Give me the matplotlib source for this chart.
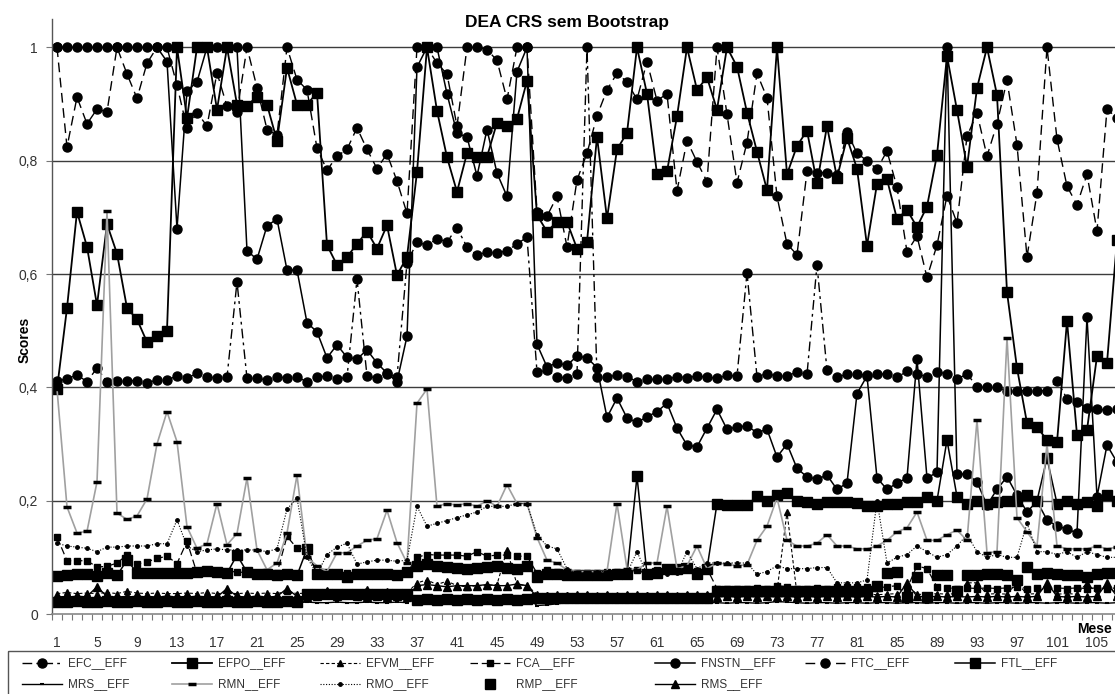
import matplotlib
matplotlib.use("Agg")
import matplotlib.pyplot as plt
from matplotlib.patches import Rectangle

plt.rcParams['font.family'] = ['Liberation Sans', 'DejaVu Sans']

# ---------------- data ----------------
months = list(range(1, 108))
tick_months = list(range(1, 106, 4))
y_ticks = [0, 0.2, 0.4, 0.6, 0.8, 1.0]
y_tick_labels = ["0", "0,2", "0,4", "0,6", "0,8", "1"]

EFC = [0.411, 0.415, 0.422, 0.41, 0.434, 0.41, 0.412, 0.412, 0.412, 0.408,
       0.413, 0.413, 0.42, 0.416, 0.425, 0.418, 0.417, 0.418, 0.586, 0.416,
       0.416, 0.413, 0.418, 0.417, 0.418, 0.41, 0.418, 0.42, 0.414, 0.418,
       0.591, 0.42, 0.416, 0.423, 0.418, 0.62, 0.656, 0.651, 0.662, 0.657,
       0.681, 0.648, 0.633, 0.639, 0.637, 0.641, 0.653, 0.665, 0.427, 0.43,
       0.419, 0.416, 0.424, 1.0, 0.419, 0.419, 0.421, 0.419, 0.41, 0.414,
       0.414, 0.414, 0.419, 0.417, 0.42, 0.418, 0.416, 0.421, 0.42, 0.602,
       0.419, 0.424, 0.42, 0.42, 0.427, 0.423, 0.616, 0.43, 0.418, 0.423,
       0.423, 0.422, 0.423, 0.424, 0.418, 0.428, 0.423, 0.419, 0.427, 0.424,
       0.414, 0.424, 0.401, 0.4, 0.4, 0.394, 0.394, 0.394, 0.394, 0.394,
       0.412, 0.38, 0.374, 0.364, 0.361, 0.36, 0.361]

EFPO = [0.397, 0.54, 0.71, 0.648, 0.545, 0.688, 0.636, 0.54, 0.52, 0.48,
        0.49, 0.5, 1.0, 0.875, 1.0, 1.0, 0.89, 1.0, 0.899, 0.897,
        0.913, 0.899, 0.835, 0.964, 0.899, 0.899, 0.92, 0.651, 0.616, 0.63,
        0.653, 0.675, 0.645, 0.686, 0.598, 0.63, 0.78, 1.0, 0.888, 0.806,
        0.745, 0.813, 0.807, 0.807, 0.867, 0.861, 0.874, 0.941, 0.704, 0.675,
        0.692, 0.692, 0.645, 0.657, 0.842, 0.698, 0.82, 0.849, 1.0, 0.918,
        0.776, 0.781, 0.878, 1.0, 0.925, 0.947, 0.89, 1.0, 0.966, 0.885,
        0.816, 0.748, 1.0, 0.776, 0.826, 0.853, 0.76, 0.861, 0.77, 0.84,
        0.786, 0.65, 0.759, 0.767, 0.697, 0.713, 0.683, 0.719, 0.81, 0.985,
        0.889, 0.789, 0.928, 1.0, 0.916, 0.568, 0.434, 0.337, 0.33, 0.307,
        0.303, 0.517, 0.316, 0.325, 0.455, 0.443, 0.66]

EFVM = [0.036, 0.038, 0.036, 0.037, 0.036, 0.038, 0.036, 0.04, 0.037, 0.036,
        0.037, 0.036, 0.036, 0.037, 0.036, 0.038, 0.036, 0.037, 0.036, 0.037,
        0.036, 0.037, 0.036, 0.04, 0.036, 0.037, 0.036, 0.04, 0.037, 0.038,
        0.036, 0.045, 0.036, 0.04, 0.036, 0.037, 0.055, 0.06, 0.052, 0.058,
        0.05, 0.048, 0.05, 0.05, 0.052, 0.113, 0.052, 0.05, 0.035, 0.034,
        0.035, 0.034, 0.036, 0.035, 0.034, 0.035, 0.034, 0.036, 0.035, 0.034,
        0.035, 0.036, 0.034, 0.035, 0.036, 0.035, 0.038, 0.036, 0.035, 0.036,
        0.038, 0.04, 0.04, 0.18, 0.035, 0.036, 0.035, 0.036, 0.034, 0.035,
        0.036, 0.035, 0.034, 0.035, 0.036, 0.05, 0.035, 0.034, 0.036, 0.035,
        0.036, 0.055, 0.055, 0.035, 0.036, 0.035, 0.055, 0.035, 0.036, 0.05,
        0.035, 0.036, 0.035, 0.055, 0.036, 0.05, 0.035]

FCA = [0.136, 0.094, 0.094, 0.094, 0.083, 0.084, 0.09, 0.104, 0.088, 0.092,
       0.098, 0.102, 0.089, 0.128, 0.072, 0.074, 0.075, 0.074, 0.075, 0.072,
       0.07, 0.07, 0.072, 0.137, 0.116, 0.114, 0.07, 0.07, 0.07, 0.072,
       0.07, 0.07, 0.07, 0.07, 0.07, 0.072, 0.1, 0.105, 0.104, 0.104,
       0.104, 0.102, 0.11, 0.102, 0.104, 0.104, 0.102, 0.102, 0.072, 0.078,
       0.075, 0.072, 0.072, 0.072, 0.072, 0.074, 0.075, 0.075, 0.078, 0.07,
       0.078, 0.082, 0.08, 0.082, 0.076, 0.08, 0.045, 0.045, 0.044, 0.045,
       0.046, 0.045, 0.05, 0.048, 0.045, 0.044, 0.046, 0.045, 0.047, 0.048,
       0.048, 0.047, 0.046, 0.048, 0.05, 0.045, 0.085, 0.08, 0.048, 0.046,
       0.045, 0.046, 0.045, 0.046, 0.045, 0.046, 0.048, 0.045, 0.046, 0.045,
       0.046, 0.045, 0.046, 0.045, 0.046, 0.045, 0.046]

FNSTN = [1, 1, 1, 1, 1, 1, 1, 1, 1, 1,
         1, 0.975, 0.68, 0.923, 0.939, 1.0, 1.0, 1.0, 1.0, 0.641,
         0.626, 0.685, 0.697, 0.607, 0.607, 0.514, 0.498, 0.452, 0.475, 0.453,
         0.45, 0.466, 0.443, 0.425, 0.41, 0.49, 0.965, 1.0, 1.0, 0.918,
         0.848, 0.842, 0.773, 0.855, 0.778, 0.737, 0.957, 1.0, 0.476, 0.436,
         0.443, 0.439, 0.455, 0.452, 0.435, 0.347, 0.381, 0.346, 0.338, 0.348,
         0.357, 0.372, 0.328, 0.298, 0.295, 0.328, 0.361, 0.326, 0.33, 0.332,
         0.32, 0.326, 0.277, 0.30, 0.257, 0.242, 0.238, 0.245, 0.22, 0.231,
         0.389, 0.42, 0.24, 0.22, 0.231, 0.24, 0.45, 0.24, 0.25, 1.0,
         0.247, 0.247, 0.233, 0.192, 0.22, 0.242, 0.21, 0.18, 0.199, 0.166,
         0.155, 0.15, 0.143, 0.524, 0.207, 0.298, 0.268]

FTC = [1.0, 0.824, 0.912, 0.865, 0.891, 0.886, 1.0, 0.953, 0.91, 0.972,
       1.0, 1.0, 0.933, 0.857, 0.885, 0.861, 0.955, 0.896, 0.886, 1.0,
       0.929, 0.855, 0.845, 1.0, 0.943, 0.925, 0.822, 0.783, 0.808, 0.82,
       0.858, 0.82, 0.786, 0.812, 0.764, 0.707, 1.0, 1.0, 0.972, 0.953,
       0.861, 1.0, 1.0, 0.996, 0.977, 0.908, 1.0, 1.0, 0.71, 0.702,
       0.737, 0.648, 0.766, 0.813, 0.879, 0.925, 0.954, 0.939, 0.908, 0.975,
       0.906, 0.918, 0.747, 0.835, 0.798, 0.763, 1.0, 0.882, 0.761, 0.832,
       0.954, 0.911, 0.737, 0.653, 0.634, 0.781, 0.779, 0.779, 0.775, 0.851,
       0.813, 0.8, 0.785, 0.817, 0.753, 0.639, 0.667, 0.594, 0.651, 0.738,
       0.69, 0.843, 0.884, 0.808, 0.865, 0.942, 0.828, 0.63, 0.743, 1.0,
       0.838, 0.755, 0.722, 0.776, 0.676, 0.891, 0.875]

FTL = [0.067, 0.068, 0.07, 0.07, 0.067, 0.072, 0.068, 0.095, 0.073, 0.072,
       0.072, 0.072, 0.072, 0.072, 0.075, 0.076, 0.075, 0.072, 0.104, 0.074,
       0.07, 0.071, 0.068, 0.07, 0.068, 0.115, 0.07, 0.07, 0.07, 0.066,
       0.07, 0.07, 0.07, 0.07, 0.068, 0.075, 0.085, 0.088, 0.085, 0.083,
       0.082, 0.08, 0.081, 0.083, 0.085, 0.082, 0.08, 0.085, 0.065, 0.07,
       0.07, 0.068, 0.068, 0.068, 0.068, 0.069, 0.07, 0.07, 0.243, 0.07,
       0.072, 0.08, 0.08, 0.082, 0.07, 0.08, 0.195, 0.192, 0.192, 0.192,
       0.208, 0.2, 0.21, 0.213, 0.2, 0.198, 0.195, 0.198, 0.197, 0.197,
       0.196, 0.19, 0.19, 0.195, 0.194, 0.198, 0.198, 0.207, 0.2, 0.307,
       0.207, 0.195, 0.2, 0.195, 0.197, 0.2, 0.2, 0.21, 0.2, 0.275,
       0.195, 0.2, 0.195, 0.197, 0.19, 0.21, 0.2]

MRS = [0.02, 0.021, 0.02, 0.02, 0.021, 0.02, 0.02, 0.021, 0.02, 0.02,
       0.021, 0.02, 0.02, 0.021, 0.02, 0.02, 0.021, 0.02, 0.02, 0.021,
       0.02, 0.02, 0.021, 0.02, 0.02, 0.021, 0.02, 0.02, 0.021, 0.02,
       0.02, 0.021, 0.02, 0.02, 0.021, 0.02, 0.03, 0.031, 0.03, 0.03,
       0.031, 0.03, 0.03, 0.031, 0.03, 0.03, 0.031, 0.03, 0.015, 0.016,
       0.018, 0.02, 0.019, 0.02, 0.02, 0.019, 0.02, 0.02, 0.019, 0.02,
       0.02, 0.019, 0.02, 0.02, 0.019, 0.02, 0.02, 0.019, 0.02, 0.02,
       0.019, 0.02, 0.022, 0.021, 0.02, 0.019, 0.02, 0.02, 0.019, 0.02,
       0.02, 0.019, 0.02, 0.02, 0.019, 0.02, 0.02, 0.019, 0.02, 0.02,
       0.019, 0.02, 0.02, 0.019, 0.02, 0.02, 0.019, 0.02, 0.02, 0.019,
       0.02, 0.02, 0.019, 0.02, 0.02, 0.019, 0.02]

RMN = [0.397, 0.189, 0.143, 0.146, 0.233, 0.711, 0.178, 0.167, 0.173, 0.203,
       0.3, 0.357, 0.304, 0.154, 0.116, 0.124, 0.195, 0.122, 0.142, 0.24,
       0.113, 0.078, 0.09, 0.143, 0.245, 0.1, 0.085, 0.075, 0.108, 0.108,
       0.12, 0.13, 0.133, 0.183, 0.126, 0.09, 0.372, 0.397, 0.19, 0.195,
       0.192, 0.195, 0.19, 0.2, 0.19, 0.228, 0.195, 0.195, 0.135, 0.095,
       0.09, 0.078, 0.075, 0.075, 0.075, 0.075, 0.195, 0.08, 0.078, 0.09,
       0.09, 0.19, 0.08, 0.085, 0.12, 0.08, 0.09, 0.088, 0.085, 0.087,
       0.13, 0.155, 0.205, 0.13, 0.12, 0.12, 0.125, 0.14, 0.12, 0.12,
       0.115, 0.115, 0.12, 0.13, 0.145, 0.152, 0.18, 0.13, 0.13, 0.14,
       0.148, 0.13, 0.342, 0.108, 0.11, 0.487, 0.17, 0.145, 0.12, 0.3,
       0.12, 0.115, 0.115, 0.115, 0.12, 0.115, 0.118]

RMO = [0.125, 0.12, 0.118, 0.116, 0.11, 0.118, 0.118, 0.12, 0.12, 0.12,
       0.124, 0.124, 0.166, 0.12, 0.11, 0.113, 0.115, 0.113, 0.113, 0.113,
       0.113, 0.11, 0.115, 0.185, 0.205, 0.1, 0.07, 0.105, 0.118, 0.125,
       0.088, 0.092, 0.095, 0.095, 0.093, 0.095, 0.19, 0.155, 0.16, 0.165,
       0.17, 0.175, 0.18, 0.19, 0.19, 0.19, 0.195, 0.195, 0.14, 0.12,
       0.115, 0.08, 0.072, 0.073, 0.075, 0.075, 0.075, 0.072, 0.11, 0.07,
       0.072, 0.07, 0.072, 0.11, 0.08, 0.09, 0.09, 0.09, 0.09, 0.09,
       0.07, 0.075, 0.085, 0.08, 0.08, 0.08, 0.082, 0.082, 0.055, 0.055,
       0.055, 0.06, 0.2, 0.09, 0.1, 0.105, 0.12, 0.11, 0.1, 0.105,
       0.12, 0.14, 0.11, 0.1, 0.105, 0.1, 0.1, 0.16, 0.11, 0.11,
       0.105, 0.11, 0.1, 0.11, 0.105, 0.1, 0.1]

RMP = [0.022, 0.022, 0.023, 0.022, 0.022, 0.023, 0.022, 0.022, 0.023, 0.022,
       0.022, 0.023, 0.022, 0.022, 0.023, 0.022, 0.022, 0.023, 0.022, 0.022,
       0.023, 0.022, 0.022, 0.023, 0.022, 0.035, 0.036, 0.035, 0.036, 0.035,
       0.036, 0.035, 0.036, 0.035, 0.036, 0.035, 0.025, 0.026, 0.025, 0.026,
       0.025, 0.026, 0.025, 0.026, 0.025, 0.026, 0.025, 0.026, 0.028, 0.029,
       0.028, 0.029, 0.028, 0.029, 0.028, 0.029, 0.028, 0.029, 0.028, 0.029,
       0.028, 0.029, 0.028, 0.029, 0.028, 0.029, 0.04, 0.041, 0.04, 0.041,
       0.04, 0.041, 0.04, 0.041, 0.04, 0.041, 0.04, 0.041, 0.04, 0.041,
       0.04, 0.041, 0.05, 0.072, 0.075, 0.03, 0.065, 0.03, 0.069, 0.069,
       0.04, 0.069, 0.069, 0.07, 0.07, 0.068, 0.06, 0.083, 0.07, 0.072,
       0.07, 0.069, 0.069, 0.066, 0.07, 0.072, 0.073]

RMS = [0.03, 0.031, 0.03, 0.031, 0.048, 0.031, 0.03, 0.031, 0.03, 0.031,
       0.03, 0.031, 0.03, 0.031, 0.03, 0.031, 0.03, 0.045, 0.031, 0.03,
       0.031, 0.03, 0.031, 0.045, 0.031, 0.03, 0.031, 0.04, 0.031, 0.035,
       0.031, 0.03, 0.031, 0.03, 0.031, 0.03, 0.05, 0.052, 0.05, 0.048,
       0.05, 0.05, 0.05, 0.052, 0.05, 0.05, 0.053, 0.05, 0.03, 0.031,
       0.03, 0.031, 0.03, 0.031, 0.03, 0.031, 0.03, 0.031, 0.03, 0.031,
       0.03, 0.031, 0.03, 0.031, 0.03, 0.031, 0.03, 0.031, 0.03, 0.031,
       0.03, 0.031, 0.03, 0.031, 0.03, 0.031, 0.03, 0.031, 0.03, 0.031,
       0.03, 0.031, 0.03, 0.031, 0.03, 0.055, 0.031, 0.03, 0.031, 0.03,
       0.031, 0.03, 0.031, 0.03, 0.031, 0.03, 0.031, 0.03, 0.031, 0.055,
       0.031, 0.03, 0.031, 0.03, 0.031, 0.055, 0.031]

series_names = ["EFC__EFF", "EFPO__EFF", "EFVM__EFF", "FCA__EFF", "FNSTN__EFF",
                "FTC__EFF", "FTL__EFF", "MRS__EFF", "RMN__EFF", "RMO__EFF",
                "RMP__EFF", "RMS__EFF"]
series_values = [EFC, EFPO, EFVM, FCA, FNSTN, FTC, FTL, MRS, RMN, RMO, RMP, RMS]

# ---------------- styles ----------------
K = "black"
styles = {
    "EFC__EFF":   dict(ls=(0, (7, 3, 2, 3)), lw=1.0, color=K, marker="o", ms=6.5, mfc=K, mec=K),
    "EFPO__EFF":  dict(ls="-", lw=1.3, color=K, marker="s", ms=7, mfc=K, mec=K),
    "EFVM__EFF":  dict(ls=(0, (3, 2)), lw=0.8, color=K, marker="^", ms=4.5, mfc=K, mec=K),
    "FCA__EFF":   dict(ls=(0, (6, 3)), lw=0.9, color=K, marker="s", ms=5, mfc=K, mec=K),
    "FNSTN__EFF": dict(ls="-", lw=1.1, color=K, marker="o", ms=6.5, mfc=K, mec=K),
    "FTC__EFF":   dict(ls=(0, (7, 4)), lw=1.0, color=K, marker="o", ms=6.5, mfc=K, mec=K),
    "FTL__EFF":   dict(ls="-", lw=1.1, color=K, marker="s", ms=6.5, mfc=K, mec=K),
    "MRS__EFF":   dict(ls="-", lw=1.0, color=K, marker="_", ms=3, mfc=K, mec=K, mew=1.5),
    "RMN__EFF":   dict(ls="-", lw=1.2, color="#a0a0a0", marker="_", ms=6, mfc=K, mec=K, mew=2.5),
    "RMO__EFF":   dict(ls=(0, (1, 1.5)), lw=0.8, color=K, marker="o", ms=2.5, mfc=K, mec=K),
    "RMP__EFF":   dict(ls="none", lw=0, color=K, marker="s", ms=6.5, mfc=K, mec=K),
    "RMS__EFF":   dict(ls="-", lw=1.0, color=K, marker="^", ms=6, mfc=K, mec=K),
}

# ---------------- figure ----------------
W, H = 1115, 694
fig = plt.figure(figsize=(W / 100, H / 100), dpi=100)
fig.patch.set_facecolor("white")

ax_left, ax_right, ax_top, ax_bot = 52, 1115, 19, 614
ax = fig.add_axes([ax_left / W, (H - ax_bot) / H, (ax_right - ax_left) / W, (ax_bot - ax_top) / H])

for name, vals in zip(series_names, series_values):
    ax.plot(months, vals, clip_on=True, **styles[name])

ax.set_xlim(0.5, 106.8)
ax.set_ylim(0, 1.05)

for v in y_ticks[1:]:
    ax.axhline(v, color="#3c3c3c", lw=1.0, zorder=0)

ax.set_yticks(y_ticks)
ax.set_yticklabels(y_tick_labels)
ax.set_xticks(tick_months)
ax.set_xticklabels([str(m) for m in tick_months])
ax.set_xticks([m + 0.5 for m in range(0, 107)], minor=True)

ax.tick_params(axis="x", which="major", length=0, pad=16, labelsize=10, labelcolor="#333333")
ax.tick_params(axis="x", which="minor", length=4, width=0.8, color="#777777", direction="out")
ax.tick_params(axis="y", which="major", length=4, width=0.8, color="#777777", pad=6,
               labelsize=10, labelcolor="#333333")

for s in ["top", "right"]:
    ax.spines[s].set_visible(False)
ax.spines["left"].set_color("#555555")
ax.spines["left"].set_linewidth(1.0)
ax.spines["bottom"].set_color("#888888")
ax.spines["bottom"].set_linewidth(1.2)

ax.set_ylabel("Scores", fontsize=10, fontweight="bold")
ax.yaxis.set_label_coords(-0.019, 0.46)

fig.text(567 / W, 1 - 23 / H, "DEA CRS sem Bootstrap", ha="center", va="center",
         fontsize=12.5, fontweight="bold")
fig.text(1112 / W, 1 - 629 / H, "Mese", ha="right", va="center",
         fontsize=10, fontweight="bold")

# ---------------- legend (drawn in pixel space) ----------------
lax = fig.add_axes([0, 0, 1, 1], facecolor="none")
lax.set_xlim(0, W)
lax.set_ylim(H, 0)
lax.axis("off")
lax.add_patch(Rectangle((8, 651), W + 20, 80, fill=False, edgecolor="#555555", lw=1.0))

col_x = [22, 172, 320, 470, 655, 805, 955]
row_y = [663, 684]
layout = [(0, 0), (1, 0), (2, 0), (3, 0), (4, 0), (5, 0), (6, 0),
          (0, 1), (1, 1), (2, 1), (3, 1), (4, 1)]
for name, (c, r) in zip(series_names, layout):
    st = dict(styles[name])
    x0, y = col_x[c], row_y[r]
    line_st = {k: v for k, v in st.items() if k in ("ls", "lw", "color")}
    mk_st = {k: v for k, v in st.items() if k in ("marker", "ms", "mfc", "mec", "mew")}
    if line_st.get("ls") != "none":
        lax.plot([x0, x0 + 40], [y, y], **line_st)
    lax.plot([x0 + 20], [y], ls="none", **mk_st)
    lax.text(x0 + 46, y, name, ha="left", va="center", fontsize=8.5, color="#333333")

fig.savefig("out.png", dpi=100)
